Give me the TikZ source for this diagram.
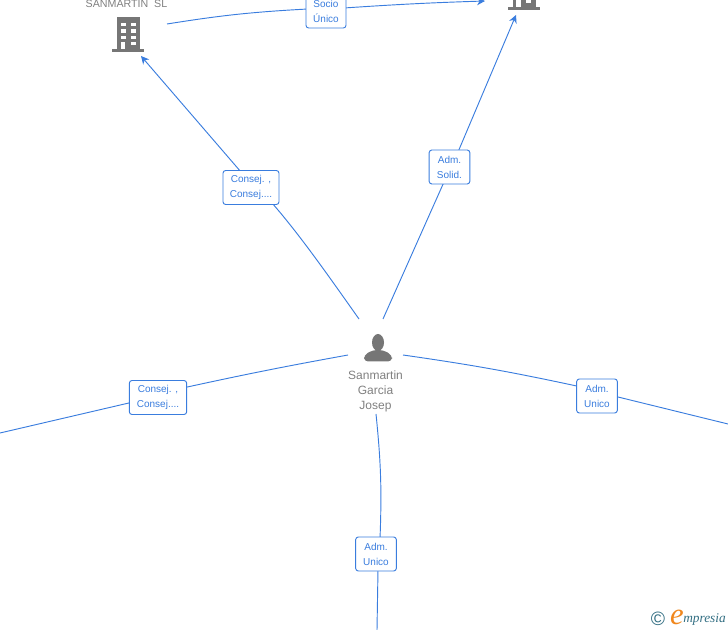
\documentclass[tikz,border=0pt]{standalone}
\usepackage{fontspec}
\setmainfont{Liberation Sans}
\newfontfamily\logofont{Liberation Serif}
\usetikzlibrary{arrows.meta,backgrounds}
\definecolor{linkblue}{RGB}{58,125,222}
\definecolor{icongray}{RGB}{118,118,118}
\definecolor{namegray}{RGB}{128,128,128}
\definecolor{logoteal}{RGB}{50,110,130}
\definecolor{logoorange}{RGB}{240,135,30}

\begin{document}
\begin{tikzpicture}[x=0.75pt,y=-0.75pt,font=\fontsize{7.5}{11.2}\selectfont,
tagbox/.style={draw=linkblue, fill=white, rounded corners=2pt, line width=0.7pt, text=linkblue, align=center, inner sep=0pt, minimum height=25.5pt, execute at begin node={\rule{0pt}{8pt}}},
link/.style={draw=linkblue, line width=0.7pt},
arrowed/.style={-{Stealth[length=6pt,width=6pt]}},
nametext/.style={text=namegray, align=center, inner sep=0pt},
building/.pic={
  \fill[icongray] (-11,-17.5) rectangle (12,15);
  \fill[icongray] (-16,14.3) rectangle (16,16.8);
  \foreach \r in {-12.3,-5.7,1}
    \foreach \c in {-7.3,2.7}
      \fill[white] (\c,\r) rectangle ++(4.8,3.4);
  \fill[white] (2.7,6.7) rectangle ++(4.8,3.4);
  \fill[white] (-7.3,6.7) rectangle ++(4.6,7.6);
}]
\useasboundingbox (0,0) rectangle (728,630);
\clip (0,0) rectangle (728,630);

% companies
\pic at (128,35) {building};
\pic at (523.5,-7) {building};
\node[nametext, font=\fontsize{8}{10}\selectfont] (firm) at (126.5,4) {SANMARTIN\ \ SL};
\coordinate (firmE) at (167,24);
\coordinate (firmS) at (141,56);
\coordinate (otherW) at (485,1);
\coordinate (otherS) at (516,15);

% person
\fill[icongray] (378,342.5) ellipse (6 and 8.5);
\fill[icongray, rounded corners=3pt] (364,361.5) -- (364,355) -- (373,350) -- (383,350) -- (392,355) -- (392,361.5) -- cycle;
\node[nametext, font=\fontsize{9}{11.2}\selectfont] (person) at (375.5,391) {Sanmartin\\Garcia\\Josep};
\coordinate (personN) at (359,319);
\coordinate (personNE) at (383,319);
\coordinate (personW) at (348,355);
\coordinate (personE) at (403,355);
\coordinate (personS) at (376,414);

% free ends
\coordinate (endW) at (0,433);
\coordinate (endE) at (728,424);
\coordinate (endS) at (377,630);

% labels
\node[tagbox, minimum width=42pt] (consejA) at (251,187.5) {Consej. ,\\Consej....};
\node[tagbox, minimum width=30.5pt] (solid) at (449.5,167) {Adm.\\Solid.};
\node[tagbox, minimum width=30pt] (socio) at (326,11) {Socio\\Único};
\node[tagbox, minimum width=43pt] (consejB) at (158,397.5) {Consej. ,\\Consej....};
\node[tagbox, minimum width=30.5pt] (unicoE) at (597,396) {Adm.\\Unico};
\node[tagbox, minimum width=30.5pt] (unicoS) at (376,554) {Adm.\\Unico};

% where the links meet the labels
\coordinate (consejAup) at (241,172);
\coordinate (consejAdn) at (272,203);
\coordinate (solidup) at (458,152);
\coordinate (soliddn) at (444,182);
\coordinate (socioW) at (308,9);
\coordinate (socioE) at (344,8);
\coordinate (consejBE) at (185,387.5);
\coordinate (consejBW) at (131,402.5);
\coordinate (unicoEW) at (579,386.5);
\coordinate (unicoEE) at (616,396.5);
\coordinate (unicoSup) at (380,539);
\coordinate (unicoSdn) at (378,569);

\begin{scope}[on background layer]
\draw[link] (firmE) to[bend left=3] (socioW);
\draw[link, arrowed] (socioE) to[bend left=1] (otherW);
\draw[link] (personN) .. controls (330,278) and (300,235) .. (consejAdn);
\draw[link, arrowed] (consejAup) -- (firmS);
\draw[link] (personNE) -- (soliddn);
\draw[link, arrowed] (solidup) -- (otherS);
\draw[link] (personW) to[bend right=1] (consejBE);
\draw[link] (consejBW) -- (endW);
\draw[link] (personE) to[bend left=2] (unicoEW);
\draw[link] (unicoEE) -- (endE);
\draw[link] (personS) to[bend left=4] (unicoSup);
\draw[link] (unicoSdn) -- (endS);
\end{scope}

% logo
\node[text=logoteal, inner sep=0pt, font=\fontsize{14.5}{15}\selectfont] (logoC) at (658,619) {©};
\node[text=logoorange, inner sep=0pt, font=\logofont\itshape\fontsize{23}{23}\selectfont] (logoE) at (677,617) {e};
\node[text=logoteal, inner sep=0pt, anchor=west, font=\logofont\itshape\fontsize{10}{10}\selectfont] (logoT) at (683,619.5) {mpresia};
\end{tikzpicture}
\end{document}
